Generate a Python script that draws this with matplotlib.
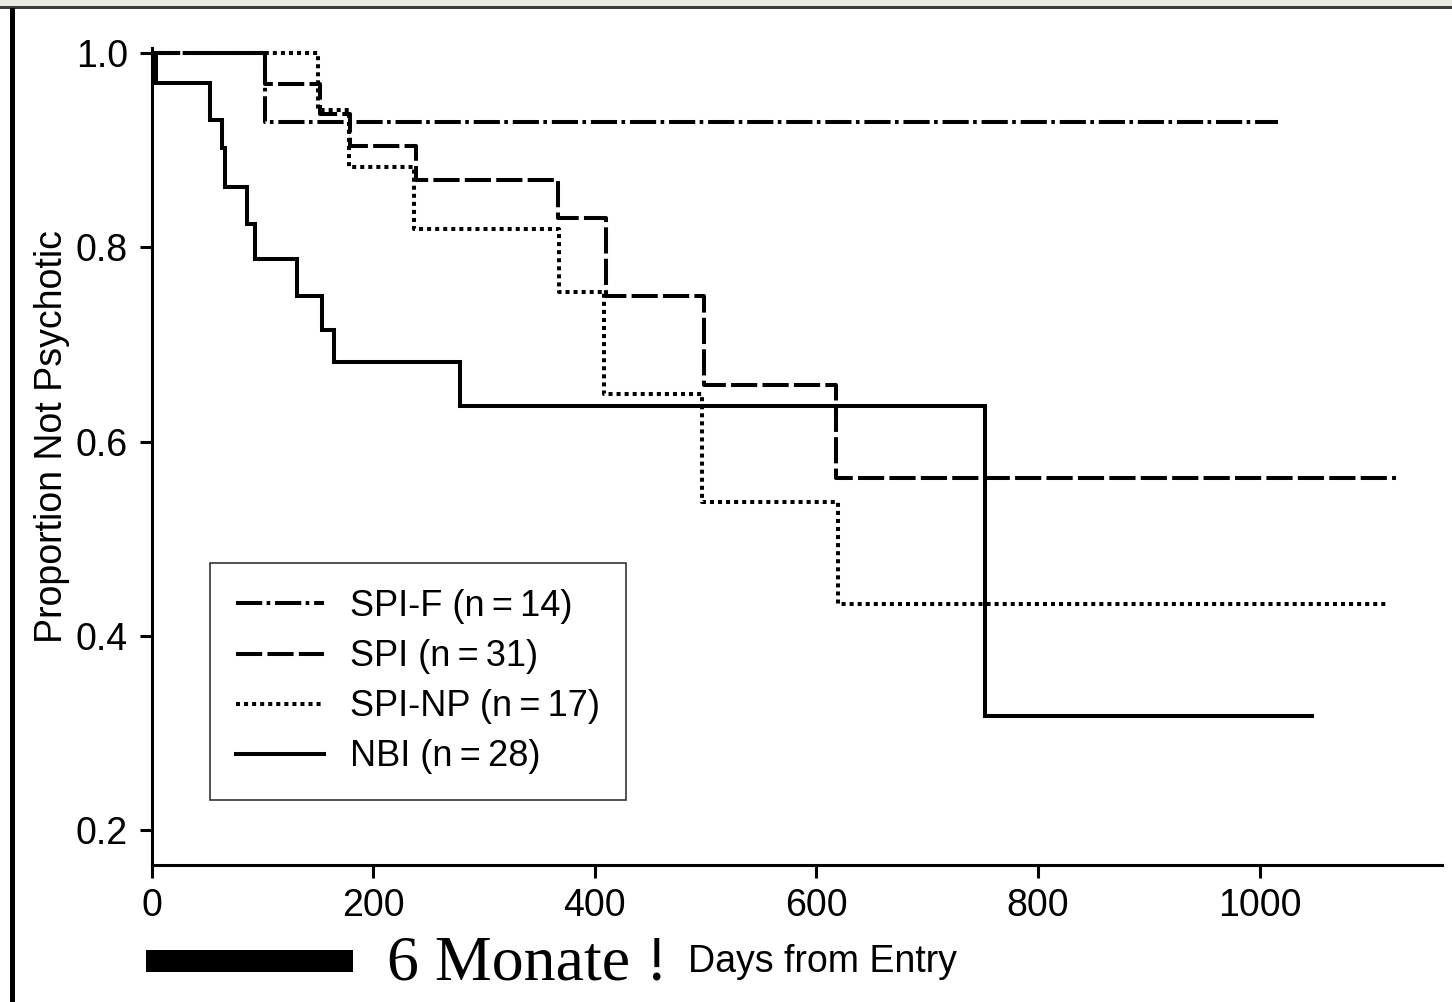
import matplotlib
matplotlib.use("Agg")
import matplotlib.pyplot as plt
from matplotlib.lines import Line2D
from matplotlib.patches import Rectangle

# Kaplan-Meier steps (days, proportion not psychotic)
spif_days = [0, 102, 1017]
spif_surv = [1.0, 0.929, 0.929]

spi_days = [0, 102, 152, 179, 239, 367, 410, 499, 618, 1123]
spi_surv = [1.0, 0.968, 0.937, 0.904, 0.869, 0.830, 0.750, 0.658, 0.563, 0.563]

spinp_days = [0, 150, 178, 237, 368, 408, 497, 620, 1117]
spinp_surv = [1.0, 0.941, 0.883, 0.819, 0.754, 0.649, 0.538, 0.433, 0.433]

nbi_days = [0, 4, 53, 64, 66, 86, 93, 131, 154, 165, 278, 752, 1047]
nbi_surv = [1.0, 0.969, 0.931, 0.902, 0.862, 0.824, 0.788, 0.750, 0.715, 0.682, 0.637, 0.318, 0.318]

labels = ["SPI-F (n\u2009=\u200914)", "SPI (n\u2009=\u200931)",
          "SPI-NP (n\u2009=\u200917)", "NBI (n\u2009=\u200928)"]

x_ticks = [0, 200, 400, 600, 800, 1000]
y_ticks = [0.2, 0.4, 0.6, 0.8, 1.0]

plt.rcParams["font.family"] = ["Liberation Sans", "DejaVu Sans"]

W, H = 1452, 1002
fig = plt.figure(figsize=(W / 100, H / 100), dpi=100)


def fx(px):
    return px / W


def fy(py):
    return 1 - py / H


ax_left, ax_right, ax_top, ax_bottom = 151.5, 1442, 48, 864.5
ax = fig.add_axes([fx(ax_left), fy(ax_bottom), fx(ax_right - ax_left), (ax_bottom - ax_top) / H])

lw = 2.9
styles = [
    (spif_days, spif_surv, (0, (6.5, 1.1, 0.9, 1.2))),
    (spi_days, spi_surv, (0, (6.5, 1.3))),
    (spinp_days, spinp_surv, (0, (1.0, 1.0))),
    (nbi_days, nbi_surv, "-"),
]
handles = []
for (d, s, ls), lab in zip(styles, labels):
    ax.step(d, s, where="post", color="black", lw=lw, linestyle=ls,
            solid_joinstyle="miter", dash_capstyle="butt")
    handles.append(Line2D([], [], color="black", lw=lw, linestyle=ls, label=lab))

ax.set_xlim(0, (ax_right - ax_left) / 1.108)
ax.set_ylim(1 - (ax_bottom - 53) / 971.5, 1 + (53 - ax_top) / 971.5)
ax.set_xticks(x_ticks)
ax.set_xticklabels([str(t) for t in x_ticks])
ax.set_yticks(y_ticks)
ax.set_yticklabels([f"{t:.1f}" for t in y_ticks])

for side in ["top", "right"]:
    ax.spines[side].set_visible(False)
for side in ["left", "bottom"]:
    ax.spines[side].set_linewidth(2.2)
ax.tick_params(axis="both", direction="out", length=9, width=2.2, labelsize=27, pad=8)
ax.tick_params(axis="x", pad=8)

leg = ax.legend(handles=handles, loc="upper left",
                bbox_to_anchor=((210 - ax_left) / (ax_right - ax_left), (ax_bottom - 563) / (ax_bottom - ax_top)),
                borderaxespad=0, fontsize=26, frameon=True, fancybox=False,
                handlelength=2.45, handletextpad=0.7, labelspacing=0.42,
                borderpad=0.72)
leg.get_frame().set_edgecolor("black")
leg.get_frame().set_linewidth(1.2)

fig.text(fx(52), fy(437), "Proportion Not Psychotic", rotation=90,
         ha="center", va="center", fontsize=27)
fig.text(fx(688), fy(972), "Days from Entry", ha="left", va="baseline", fontsize=27)
fig.text(fx(387), fy(980), "6 Monate !", ha="left", va="baseline", fontsize=46,
         family=["Liberation Serif", "DejaVu Serif"])

# black bar next to the annotation
fig.add_artist(Rectangle((fx(146), fy(972)), fx(353 - 146), (972 - 950) / H,
                         transform=fig.transFigure, color="black", lw=0))

# frame lines of the screenshot
fig.add_artist(Rectangle((0, fy(9)), 1, 3 / H, transform=fig.transFigure,
                         color="#3c3c34", lw=0))
fig.add_artist(Rectangle((0, fy(6)), 1, 6 / H, transform=fig.transFigure,
                         color="#e8e8e4", lw=0, zorder=-1))
fig.add_artist(Rectangle((fx(9.5), 0), fx(5.5), fy(8), transform=fig.transFigure,
                         color="black", lw=0))

fig.savefig("out.png", dpi=100)
